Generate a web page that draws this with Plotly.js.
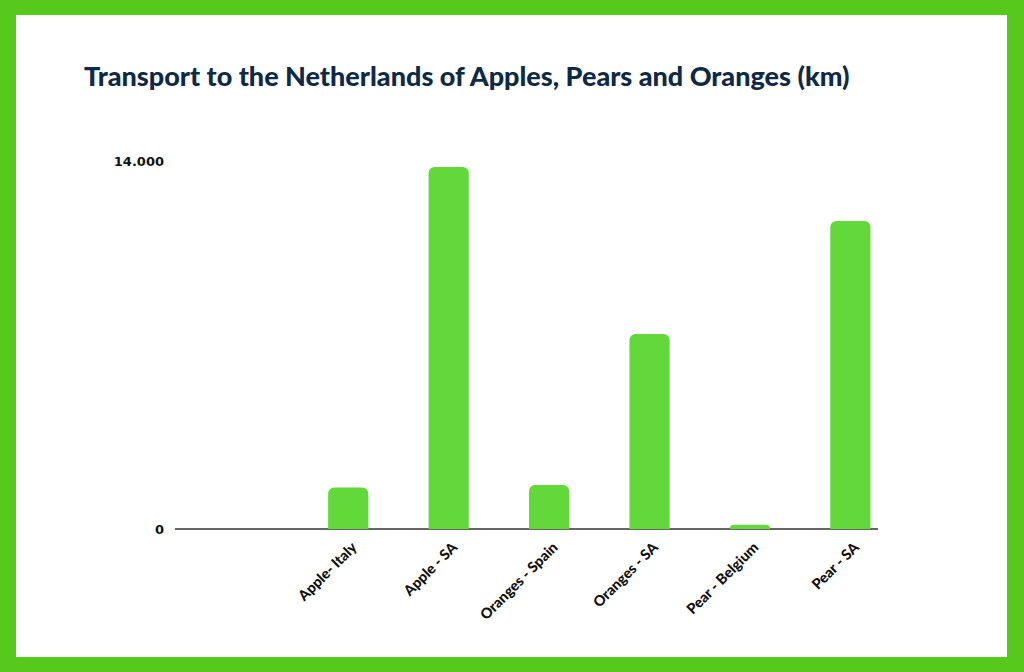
<!DOCTYPE html>
<html>
<head>
<meta charset="utf-8">
<script src="https://cdn.plot.ly/plotly-3.0.1.min.js"></script>
<style>
  html, body { margin: 0; padding: 0; width: 1024px; height: 672px; background: #57C91C; overflow: hidden; }
  #chart { position: absolute; left: 16px; top: 15px; width: 991px; height: 642px; background: #ffffff; }
</style>
</head>
<body>
<div id="chart"></div>
<script>
const categories = ["Apple- Italy", "Apple - SA", "Oranges - Spain", "Oranges - SA", "Pear - Belgium", "Pear - SA"];
const distanceKm = [1580, 13770, 1670, 7420, 160, 11720];
const yTickValues = [0, 14000];
const yTickLabels = ["0", "14.000"];
const chartTitle = "Transport to the Netherlands of Apples, Pears and Oranges (km)";

const trace = {
  type: "bar",
  x: categories,
  y: distanceKm,
  width: 0.4,
  offset: 0.025,
  marker: { color: "#62D83A", line: { width: 0 } },
  hoverinfo: "x+y"
};

const layout = {
  width: 991,
  height: 642,
  paper_bgcolor: "#ffffff",
  plot_bgcolor: "#ffffff",
  margin: { l: 159, r: 129, t: 146, b: 128 },
  barcornerradius: 6,
  showlegend: false,
  title: {
    text: chartTitle,
    font: { family: "Lato, 'Open Sans', sans-serif", size: 27, color: "#0E2A47", weight: 900 },
    x: 68 / 991,
    xanchor: "left",
    xref: "container",
    y: 1 - 62 / 642,
    yanchor: "middle",
    yref: "container"
  },
  xaxis: {
    type: "category",
    range: [-1.5, 5.5],
    showgrid: false,
    zeroline: false,
    showline: false,
    ticks: "",
    tickangle: -45,
    ticklabelshift: 27,
    ticklabelstandoff: 6,
    tickfont: { family: "Lato, 'Open Sans', sans-serif", size: 14.5, color: "#111111", weight: 900 },
    fixedrange: true
  },
  yaxis: {
    range: [0, 14000],
    tickvals: yTickValues,
    ticktext: yTickLabels,
    showgrid: true,
    gridcolor: "#ececec",
    gridwidth: 1,
    zeroline: true,
    zerolinecolor: "#666666",
    zerolinewidth: 1.3,
    showline: false,
    ticks: "",
    ticklen: 0,
    ticklabelstandoff: 10,
    tickfont: { family: "'DejaVu Sans', Lato, sans-serif", size: 13, color: "#111111", weight: 700 },
    fixedrange: true
  }
};

Plotly.newPlot("chart", [trace], layout, { displayModeBar: false, staticPlot: true });
</script>
</body>
</html>
